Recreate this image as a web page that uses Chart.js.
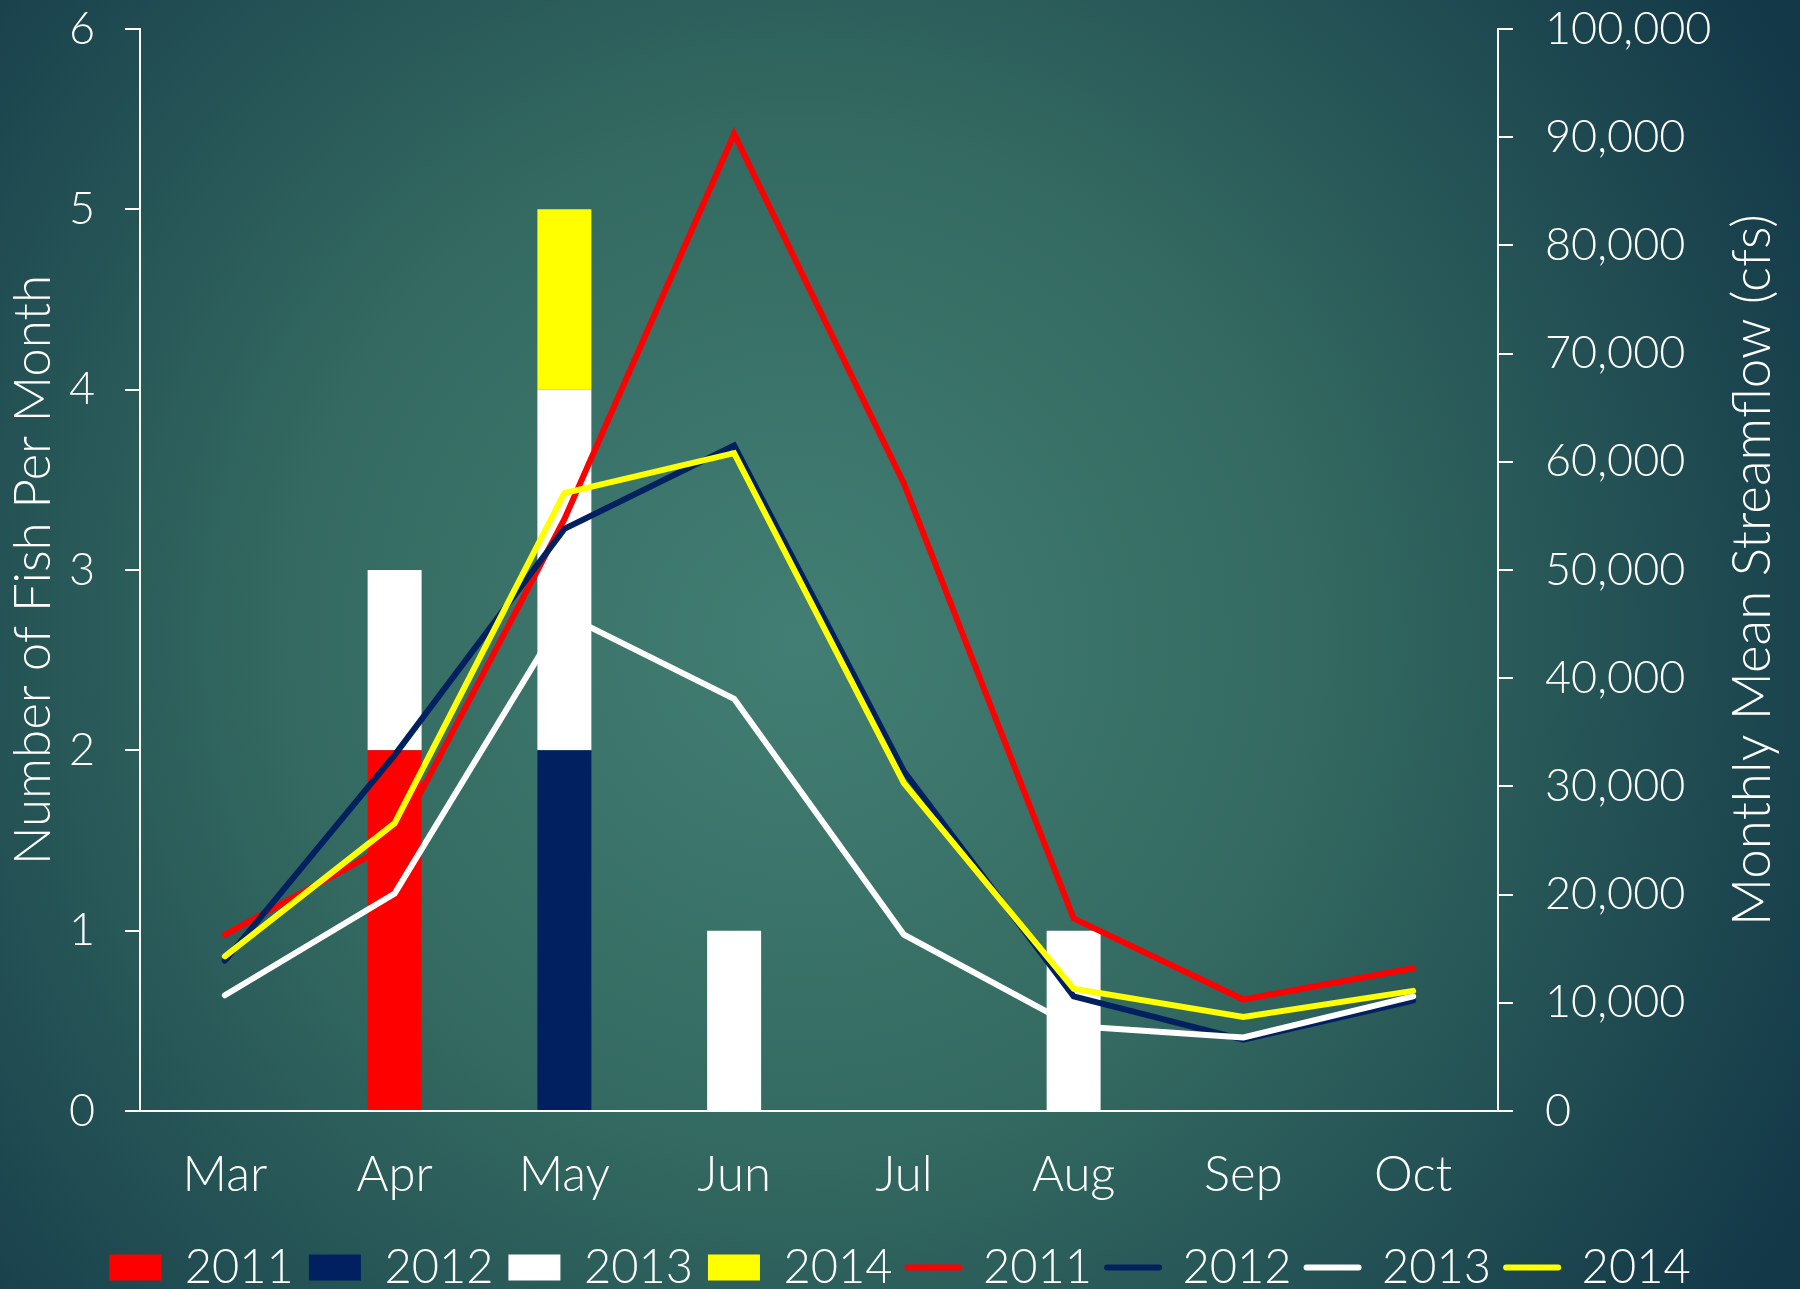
<!DOCTYPE html>
<html>
<head>
<meta charset="utf-8">
<script src="https://cdn.jsdelivr.net/npm/chart.js@4.4.1/dist/chart.umd.min.js"></script>
<style>
  html, body { margin: 0; padding: 0; overflow: hidden; background: #1e4a55; }
  #wrap { width: 1800px; height: 1289px; position: relative; }
</style>
</head>
<body>
<div id="wrap"><canvas id="mycanvas"></canvas></div>
<script>
// months on the x axis
var months = ['Mar', 'Apr', 'May', 'Jun', 'Jul', 'Aug', 'Sep', 'Oct'];

// fish counted per month (left axis, stacked bars)
var fish2011 = [0, 2, 0, 0, 0, 0, 0, 0];
var fish2012 = [0, 0, 2, 0, 0, 0, 0, 0];
var fish2013 = [0, 1, 2, 1, 0, 1, 0, 0];
var fish2014 = [0, 0, 1, 0, 0, 0, 0, 0];

// monthly mean streamflow, cfs (right axis, lines)
var flow2011 = [16300, 24850, 54700, 90300, 58000, 17800, 10300, 13200];
var flow2012 = [13900, 32900, 53800, 61500, 31400, 10600, 6600, 10200];
var flow2013 = [10700, 20100, 45900, 38100, 16300, 7850, 6800, 10600];
var flow2014 = [14300, 26600, 57100, 60800, 30300, 11300, 8700, 11100];

var fishTicks = [0, 1, 2, 3, 4, 5, 6];
var flowMax = 100000;

var RED = '#ff0000', NAVY = '#002060', WHITE = '#ffffff', YELLOW = '#ffff00';
var FONT = "'Century Gothic', Lato, 'Open Sans', sans-serif";

Chart.defaults.font.family = FONT;
Chart.defaults.color = '#ffffff';

// radial teal backdrop behind everything
var backdrop = {
	id: 'backdrop',
	beforeDraw: function(chart){
		var c = chart.ctx, w = chart.width, h = chart.height;
		var g = c.createRadialGradient(800, 640, 0, 800, 640, 1150);
		g.addColorStop(0, '#427e73');
		g.addColorStop(0.45, '#336960');
		g.addColorStop(1, '#133848');
		c.save();
		c.fillStyle = g;
		c.fillRect(0, 0, w, h);
		c.restore();
	}
};

// right axis title reads bottom to top like the left one
var rightTitle = {
	id: 'rightTitle',
	afterDraw: function(chart){
		var c = chart.ctx, a = chart.chartArea;
		c.save();
		c.translate(1753, (a.top + a.bottom) / 2);
		c.rotate(-Math.PI / 2);
		c.fillStyle = '#ffffff';
		c.font = '300 53px ' + FONT;
		c.textAlign = 'center';
		c.textBaseline = 'middle';
		c.fillText('Monthly Mean Streamflow (cfs)', 0, 0);
		c.restore();
	}
};

function bar(label, data, color){
	return { type: 'bar', label: label, data: data, backgroundColor: color, borderWidth: 0,
		yAxisID: 'y', stack: 'fish', order: 9,
		categoryPercentage: 1.0, barPercentage: 0.318 };
}
function line(label, data, color, order){
	return { type: 'line', label: label, data: data, borderColor: color, backgroundColor: color,
		borderWidth: 6, pointRadius: 0, pointHoverRadius: 0, tension: 0, fill: false,
		borderJoinStyle: 'miter', borderCapStyle: 'round', yAxisID: 'y2', order: order };
}

var chartdata = {
	labels: months,
	datasets: [
		bar('2011', fish2011, RED),
		bar('2012', fish2012, NAVY),
		bar('2013', fish2013, WHITE),
		bar('2014', fish2014, YELLOW),
		line('2011', flow2011, RED, 4),
		line('2012', flow2012, NAVY, 3),
		line('2013', flow2013, WHITE, 2),
		line('2014', flow2014, YELLOW, 1)
	]
};

var ctx = document.getElementById('mycanvas');

var fishChart = new Chart(ctx, {
	type: 'bar',
	data: chartdata,
	plugins: [backdrop, rightTitle],
	options: {
		responsive: true,
		maintainAspectRatio: false,
		animation: false,
		layout: { padding: { top: 29, left: 0, right: 0, bottom: -12 } },
		plugins: {
			tooltip: { enabled: false },
			legend: {
				position: 'bottom',
				labels: {
					usePointStyle: true,
					pointStyleWidth: 52,
					boxHeight: 26,
					padding: 15,
					color: '#ffffff',
					font: { size: 47, weight: '300' },
					generateLabels: function(chart){
						return chart.data.datasets.map(function(ds, i){
							var isLine = ds.type === 'line';
							return {
								text: ds.label,
								datasetIndex: i,
								fillStyle: ds.backgroundColor,
								strokeStyle: isLine ? ds.borderColor : ds.backgroundColor,
								lineWidth: isLine ? 6 : 0,
								lineCap: 'round',
								pointStyle: isLine ? 'line' : 'rect',
								fontColor: '#ffffff',
								hidden: false
							};
						});
					}
				}
			}
		},
		scales: {
			x: {
				stacked: true,
				grid: { display: false, drawTicks: false },
				border: { display: true, color: WHITE, width: 2 },
				ticks: { color: WHITE, padding: 35, font: { size: 49, weight: '300' } },
				afterFit: function(s){ s.height = 1289 + 12 - 1111 - (47 + 15 + 10); }
			},
			y: {
				position: 'left',
				stacked: true,
				min: 0,
				max: 6,
				afterBuildTicks: function(s){ s.ticks = fishTicks.map(function(v){ return { value: v }; }); },
				grid: { drawOnChartArea: false, color: WHITE, lineWidth: 2, tickLength: 15 },
				border: { display: true, color: WHITE, width: 2 },
				ticks: { color: WHITE, padding: 30, font: { size: 45, weight: '300' } },
				title: { display: true, text: 'Number of Fish Per Month', color: WHITE,
					padding: { top: 8 }, font: { size: 51, weight: '300', lineHeight: 1 } },
				afterFit: function(s){ s.width = 140; s.paddingTop = 0; s.paddingBottom = 0; }
			},
			y2: {
				position: 'right',
				min: 0,
				max: flowMax,
				ticks: {
					stepSize: 10000, color: WHITE, padding: 32, font: { size: 45, weight: '300' },
					callback: function(v){ return v.toLocaleString('en-US'); }
				},
				grid: { drawOnChartArea: false, color: WHITE, lineWidth: 2, tickLength: 15 },
				border: { display: true, color: WHITE, width: 2 },
				afterFit: function(s){ s.width = 302; s.paddingTop = 0; s.paddingBottom = 0; }
			}
		}
	}
});
</script>
</body>
</html>
